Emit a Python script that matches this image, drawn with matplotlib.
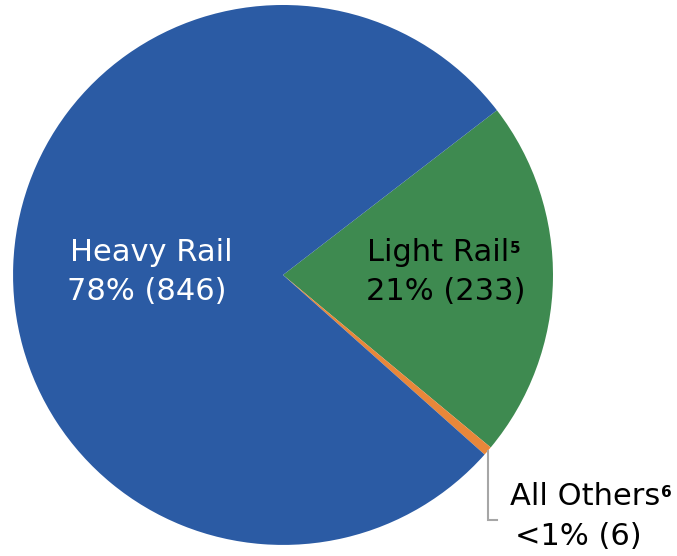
import matplotlib
matplotlib.use("Agg")
import matplotlib.pyplot as plt
import numpy as np

# rail systems by mode, count and share
modes = ["Light Rail", "All Others", "Heavy Rail"]
counts = [233, 6, 846]
shares = ["21%", "<1%", "78%"]
notes = ["5", "6", ""]
colors = ["#3E8A50", "#E8873A", "#2B5BA4"]
text_colors = ["black", "black", "white"]

plt.rcParams["font.family"] = ["DejaVu Sans"]
FS = 22

fig = plt.figure(figsize=(6.77, 5.56), dpi=100)
ax = fig.add_axes([0, 0, 1, 1])

wedges, _ = ax.pie(counts, colors=colors, startangle=37.6, counterclock=False,
                   radius=1.0, center=(0, 0), wedgeprops=dict(linewidth=0))
ax.set_xlim(-1.048, 1.459)
ax.set_ylim(-1.041, 1.0185)
ax.set_aspect("equal")
ax.axis("off")

# label line centres in data units (pie radius = 1): name line, value line
name_pos = [(0.574, 0.085), (1.119, -0.822), (-0.489, 0.085)]
value_pos = [(0.604, -0.063), (1.093, -0.970), (-0.504, -0.063)]

fig.canvas.draw()
renderer = fig.canvas.get_renderer()
for i in range(len(modes)):
    t = ax.text(*name_pos[i], modes[i], ha="center", va="center",
                fontsize=FS, color=text_colors[i])
    ax.text(*value_pos[i], f"{shares[i]} ({counts[i]})", ha="center", va="center",
            fontsize=FS, color=text_colors[i])
    if notes[i]:
        bb = t.get_window_extent(renderer)
        fig.text((bb.x1 + 1) / fig.bbox.width, (bb.y1 - 3) / fig.bbox.height, notes[i],
                 fontsize=11, fontweight="bold", color=text_colors[i],
                 ha="left", va="top")

# leader line for the small slice
w = wedges[1]
mid = np.deg2rad((w.theta1 + w.theta2) / 2)
x0, y0 = np.cos(mid), np.sin(mid)
ax.plot([x0, x0, 0.793], [y0, -0.907, -0.907], color="#A6A6A6", lw=1.5,
        solid_joinstyle="miter")

fig.savefig("out.png", dpi=100)
